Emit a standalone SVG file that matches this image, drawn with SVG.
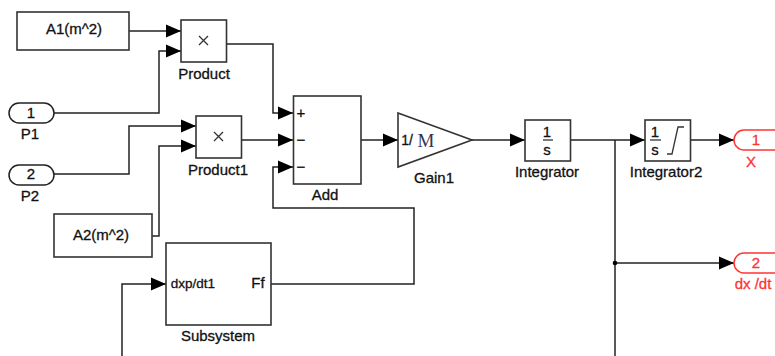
<svg xmlns="http://www.w3.org/2000/svg" width="775" height="356" viewBox="0 0 775 356">
<defs>
<marker id="arrow" markerUnits="userSpaceOnUse" markerWidth="16" markerHeight="14" refX="15" refY="7" orient="auto"><path d="M0 0.5 L15 7 L0 13.500 Z" fill="#000"/></marker>
</defs>
<style>
.b{fill:#fff;stroke:#333;stroke-width:1.6}
.c{fill:none;stroke:#222;stroke-width:1.5}
.a{marker-end:url(#arrow)}
text{font-family:"Liberation Sans",Arial,sans-serif;font-size:15px;fill:#111;text-anchor:middle;stroke:#111;stroke-width:.3}
.r{fill:#f33;stroke:#f33}
.o{fill:#fff;stroke:#f33;stroke-width:1.5}
.i{fill:#fff;stroke:#222;stroke-width:1.5}
.g{fill:none;stroke:#333;stroke-width:1.3}
</style>
<rect width="775" height="356" fill="#fff"/>
<g id="connectors">
<path class="c a" d="M129 31H181"/>
<path class="c a" d="M54 113H159V51H181"/>
<path class="c a" d="M54 174H129V126H196"/>
<path class="c a" d="M152 236H159V146H196"/>
<path class="c a" d="M226 44H273V113H293"/>
<path class="c a" d="M241 140H293"/>
<path class="c a" d="M271 284H414V208H273V167H293"/>
<path class="c a" d="M361 140H398"/>
<path class="c a" d="M472 140H525"/>
<path class="c a" d="M571 140H645"/>
<path class="c a" d="M690 140H734"/>
<path class="c a" d="M615 263H734"/>
<path class="c" d="M615 140V356"/>
<circle cx="615" cy="263" r="2.3" fill="#000"/>
<path class="c a" d="M122 356V284H166"/>
</g>
<g id="A1"><rect class="b" x="17" y="12" width="112" height="38"/><text x="74" y="34">A1(m^2)</text></g>
<g id="Product"><rect class="b" x="181" y="20" width="45.500" height="42"/><path class="g" d="M199 36l9 9M208 36l-9 9"/><text x="204" y="79">Product</text></g>
<g id="P1"><rect class="i" x="9" y="103" width="45" height="20" rx="10"/><text x="31" y="118">1</text><text x="30" y="139">P1</text></g>
<g id="P2"><rect class="i" x="9" y="165" width="45" height="20" rx="10"/><text x="31" y="179">2</text><text x="30" y="201">P2</text></g>
<g id="Product1"><rect class="b" x="196" y="116" width="45.500" height="42"/><path class="g" d="M214 132l9 9M223 132l-9 9"/><text x="218" y="175">Product1</text></g>
<g id="A2"><rect class="b" x="54" y="214" width="98" height="43"/><text x="101" y="240">A2(m^2)</text></g>
<g id="Add"><rect class="b" x="293.500" y="96" width="67.500" height="88"/><text x="301" y="118">+</text><text x="301" y="145">−</text><text x="301" y="172">−</text><text x="325" y="200">Add</text></g>
<g id="Gain1"><path class="b" d="M398 113L472 140L398 167Z"/><text x="407" y="145" style="font-size:14px">1/</text><text x="426" y="147" style="font-family:'Liberation Serif',serif;font-size:19px;stroke:none;fill:#335">M</text><text x="434" y="183">Gain1</text></g>
<g id="Integrator"><rect class="b" x="525" y="120" width="45.500" height="41"/><text x="547" y="137">1</text><path class="g" d="M543 140H553"/><text x="547" y="155">s</text><text x="547" y="177">Integrator</text></g>
<g id="Integrator2"><rect class="b" x="645" y="120" width="45.500" height="41"/><text x="655" y="137">1</text><path class="g" d="M650 140H661"/><text x="655" y="155">s</text><path class="g" d="M667 154H672L678 127H684"/><text x="666" y="177">Integrator2</text></g>
<g id="X"><rect class="o" x="734" y="130" width="60" height="20" rx="10"/><text class="r" x="756" y="145">1</text><text class="r" x="751" y="167">X</text></g>
<g id="dxdt"><rect class="o" x="734" y="253" width="60" height="20" rx="10"/><text class="r" x="756" y="268">2</text><text class="r" x="753" y="289">dx /dt</text></g>
<g id="Subsystem"><rect class="b" x="166" y="243" width="105" height="82"/><text x="193" y="288" style="font-size:13.500px">dxp/dt1</text><text x="258" y="288">Ff</text><text x="218" y="341">Subsystem</text></g>
</svg>
